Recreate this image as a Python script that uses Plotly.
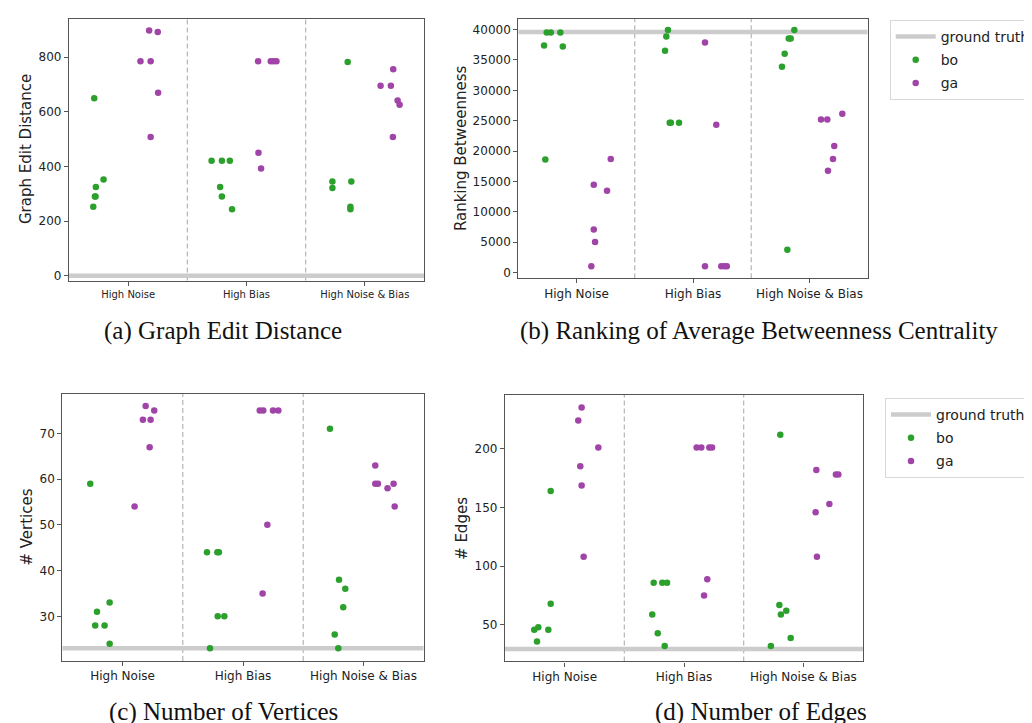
import plotly.graph_objects as go

# ---------------- data ----------------
categories = ["High Noise", "High Bias", "High Noise & Bias"]

# (a) Graph Edit Distance
ged_truth = 0
ged_bo = [[650, 352, 325, 290, 290, 252],
          [421, 421, 421, 325, 290, 243],
          [782, 345, 321, 345, 252, 243]]
ged_bo_jit = [[-0.287, -0.208, -0.273, -0.281, -0.276, -0.295],
              [-0.295, -0.208, -0.141, -0.223, -0.208, -0.122],
              [-0.145, -0.274, -0.274, -0.114, -0.122, -0.122]]
ged_ga = [[898, 892, 785, 785, 670, 508],
          [785, 785, 785, 785, 450, 392],
          [756, 695, 695, 641, 626, 508]]
ged_ga_jit = [[0.177, 0.250, 0.104, 0.190, 0.253, 0.190],
              [0.098, 0.205, 0.228, 0.253, 0.101, 0.123],
              [0.240, 0.133, 0.220, 0.277, 0.294, 0.237]]

# (b) Ranking of Average Betweenness Centrality
rb_truth = 39600
rb_bo = [[37360, 39500, 39500, 39500, 37200, 18600],
         [39940, 38840, 36490, 24670, 24670, 24670],
         [39940, 38510, 38510, 36000, 33860, 3770]]
rb_bo_jit = [[-0.279, -0.256, -0.221, -0.139, -0.118, -0.268],
             [-0.215, -0.229, -0.240, -0.200, -0.190, -0.120],
             [-0.130, -0.178, -0.161, -0.213, -0.236, -0.190]]
rb_ga = [[14440, 13460, 18710, 7100, 5020, 1030],
         [37850, 24340, 1030, 1030, 1030, 1030],
         [25210, 25210, 26150, 20850, 18710, 16740]]
rb_ga_jit = [[0.148, 0.262, 0.294, 0.148, 0.159, 0.127],
             [0.103, 0.200, 0.103, 0.243, 0.270, 0.290],
             [0.099, 0.153, 0.282, 0.213, 0.202, 0.159]]

# (c) Number of Vertices
nv_truth = 23
nv_bo = [[59, 31, 28, 28, 33, 24],
         [44, 44, 44, 30, 30, 23],
         [71, 38, 36, 32, 26, 23]]
nv_bo_jit = [[-0.268, -0.212, -0.227, -0.149, -0.107, -0.107],
             [-0.299, -0.213, -0.200, -0.210, -0.155, -0.274],
             [-0.278, -0.203, -0.151, -0.168, -0.239, -0.209]]
nv_ga = [[76, 73, 73, 75, 67, 54],
         [75, 75, 75, 75, 50, 35],
         [63, 59, 59, 58, 59, 54]]
nv_ga_jit = [[0.192, 0.169, 0.233, 0.263, 0.225, 0.100],
             [0.139, 0.168, 0.249, 0.293, 0.202, 0.163],
             [0.098, 0.098, 0.120, 0.200, 0.250, 0.259]]

# (d) Number of Edges
ne_truth = 29.6
ne_bo = [[46, 48, 36, 46, 68, 164],
         [86, 86, 86, 59, 43, 32],
         [212, 67, 59, 62, 39, 32]]
ne_bo_jit = [[-0.255, -0.221, -0.232, -0.137, -0.117, -0.117],
             [-0.254, -0.182, -0.142, -0.266, -0.220, -0.162],
             [-0.193, -0.201, -0.188, -0.143, -0.106, -0.272]]
ne_ga = [[235, 224, 201, 185, 168.6, 108],
         [201, 201, 201, 201, 89, 75],
         [182, 178, 178, 153, 146, 108]]
ne_ga_jit = [[0.142, 0.114, 0.282, 0.131, 0.142, 0.159],
             [0.106, 0.145, 0.212, 0.235, 0.195, 0.168],
             [0.109, 0.273, 0.293, 0.218, 0.103, 0.114]]

captions = ["(a) Graph Edit Distance",
            "(b) Ranking of Average Betweenness Centrality",
            "(c) Number of Vertices",
            "(d) Number of Edges"]
ytitles = ["Graph Edit Distance", "Ranking Betweenness", "# Vertices", "# Edges"]

# ---------------- styling ----------------
W, H = 1032, 723
GREEN = "#2ca02c"
PURPLE = "#a044a8"
GT_COLOR = "#cccccc"
SPINE = "#555555"

panels = [
    dict(truth=ged_truth, bo=ged_bo, boj=ged_bo_jit, ga=ged_ga, gaj=ged_ga_jit,
         px=(61, 416), py=(10.7, 273.3), yr=[-18, 941], yt=[0, 200, 400, 600, 800],
         xfs=10, yfs=12, legend=None),
    dict(truth=rb_truth, bo=rb_bo, boj=rb_bo_jit, ga=rb_ga, gaj=rb_ga_jit,
         px=(510.3, 859.7), py=(10.7, 271), yr=[-936, 41790],
         yt=list(range(0, 40001, 5000)), xfs=12, yfs=12, legend="legend"),
    dict(truth=nv_truth, bo=nv_bo, boj=nv_bo_jit, ga=nv_ga, gaj=nv_ga_jit,
         px=(54.3, 415.7), py=(386.7, 654.7), yr=[20.25, 78.7],
         yt=[30, 40, 50, 60, 70], xfs=12, yfs=12, legend=None),
    dict(truth=ne_truth, bo=ne_bo, boj=ne_bo_jit, ga=ne_ga, gaj=ne_ga_jit,
         px=(497, 855), py=(388, 655.3), yr=[18.9, 245.8],
         yt=[50, 100, 150, 200], xfs=12, yfs=12, legend="legend2"),
]

ytitle_pos = [(18.7, 141.7), (453.7, 140.8), (19.3, 520.8), (454.7, 521.7)]
caption_pos = [(214.5, 324, "middle"), (751, 324, "middle"),
               (215.5, 722, "bottom"), (752.5, 722, "bottom")]

fig = go.Figure()
layout = dict(width=W, height=H, margin=dict(l=0, r=0, t=0, b=0),
              paper_bgcolor="white", plot_bgcolor="white", showlegend=True,
              shapes=[], annotations=[])

xr = [-0.5, len(categories) - 0.5]

for k, p in enumerate(panels):
    n = k + 1
    xa = "x" if n == 1 else f"x{n}"
    ya = "y" if n == 1 else f"y{n}"
    show = p["legend"] is not None
    leg = p["legend"] if show else "legend"

    # ground truth line (spans the category axis)
    fig.add_trace(go.Scatter(x=xr, y=[p["truth"], p["truth"]], mode="lines",
                             line=dict(color=GT_COLOR, width=4.5),
                             name="ground truth", legendgroup=f"gt{n}",
                             xaxis=xa, yaxis=ya,
                             showlegend=show, legend=leg, hoverinfo="skip"))
    for name, vals, jit, col in (("bo", p["bo"], p["boj"], GREEN),
                                 ("ga", p["ga"], p["gaj"], PURPLE)):
        xs, ys = [], []
        for ci in range(len(categories)):
            for v, j in zip(vals[ci], jit[ci]):
                xs.append(ci + j)
                ys.append(v)
        fig.add_trace(go.Scatter(x=xs, y=ys, mode="markers", name=name,
                                 legendgroup=f"{name}{n}",
                                 marker=dict(color=col, size=6.5, line=dict(width=0)),
                                 xaxis=xa, yaxis=ya, showlegend=show, legend=leg))

    x0, x1 = p["px"]
    y0, y1 = p["py"]
    axx = dict(domain=[x0 / W, x1 / W], range=xr, anchor=ya,
               tickmode="array", tickvals=list(range(len(categories))),
               ticktext=categories, showgrid=False, zeroline=False,
               showline=True, mirror=True, linecolor=SPINE, linewidth=1.2,
               ticks="outside", ticklen=4, tickcolor=SPINE,
               tickfont=dict(family="DejaVu Sans", size=p["xfs"], color="#222"))
    axy = dict(domain=[1 - y1 / H, 1 - y0 / H], range=p["yr"], anchor=xa,
               tickmode="array", tickvals=p["yt"], tickformat="d",
               showgrid=False, zeroline=False,
               showline=True, mirror=True, linecolor=SPINE, linewidth=1.2,
               ticks="outside", ticklen=4, tickcolor=SPINE,
               tickfont=dict(family="DejaVu Sans", size=p["yfs"], color="#222"))
    layout["xaxis" if n == 1 else f"xaxis{n}"] = axx
    layout["yaxis" if n == 1 else f"yaxis{n}"] = axy

    # dashed separators between categories
    for b in range(len(categories) - 1):
        layout["shapes"].append(dict(type="line", xref=xa, yref=f"{ya} domain",
                                     x0=b + 0.5, x1=b + 0.5, y0=0, y1=1,
                                     line=dict(color="#b5b5b5", width=1.2, dash="5px,3px"),
                                     layer="below"))

    tx, ty = ytitle_pos[k]
    layout["annotations"].append(dict(text=ytitles[k], x=tx / W, y=1 - ty / H,
                                      xref="paper", yref="paper", showarrow=False,
                                      textangle=-90, xanchor="center", yanchor="middle",
                                      font=dict(family="DejaVu Sans", size=15, color="#222")))
    cx, cy, anc = caption_pos[k]
    layout["annotations"].append(dict(text=captions[k], x=cx / W, y=1 - cy / H,
                                      xref="paper", yref="paper", showarrow=False,
                                      xanchor="center", yanchor=anc,
                                      font=dict(family="Liberation Serif", size=25, color="#111")))

legend_style = dict(xanchor="left", yanchor="top", bgcolor="white",
                    bordercolor="#d8d8d8", borderwidth=1, itemwidth=40,
                    traceorder="grouped", tracegroupgap=2,
                    font=dict(family="DejaVu Sans", size=14, color="#222"))
layout["legend"] = dict(x=881.7 / W, y=1 - 12 / H, **legend_style)
layout["legend2"] = dict(x=877 / W, y=1 - 391 / H, **legend_style)

fig.update_layout(**layout)
fig.write_html("out.html")
